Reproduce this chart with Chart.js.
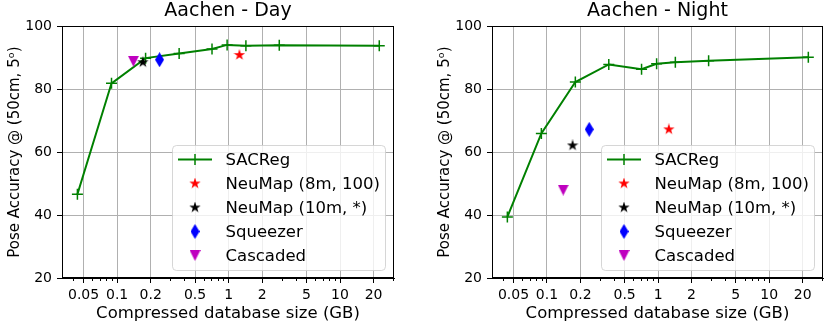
<!DOCTYPE html>
<html>
<head>
<meta charset="utf-8">
<script src="https://cdn.jsdelivr.net/npm/chart.js@4.4.0/dist/chart.umd.min.js"></script>
<style>
  html, body { margin: 0; padding: 0; background: #fff; }
  #wrap { position: relative; width: 830px; height: 332px; }
  .panel { position: absolute; top: 0; width: 415px; height: 332px; }
  #panelDay { left: 0; }
  #panelNight { left: 415px; }
</style>
</head>
<body>
<div id="wrap">
  <div class="panel" id="panelDay"><canvas id="chartDay" width="415" height="332"></canvas></div>
  <div class="panel" id="panelNight"><canvas id="chartNight" width="415" height="332"></canvas></div>
</div>
<script>
// SACReg curve (database size in GB, accuracy in %)
const sacregSize = [0.044, 0.089, 0.18, 0.36, 0.71, 0.97, 1.43, 2.85, 22.5];
const sacregDay = [46.6, 81.8, 89.8, 91.3, 92.7, 94.0, 93.7, 93.9, 93.7];
const sacregNight = [39.4, 65.9, 82.2, 87.8, 86.3, 88.0, 88.5, 89.0, 90.1];

// single-point baselines
const neumap8Size = [1.25];
const neumap8Day = [90.8];
const neumap8Night = [67.2];
const neumap10Size = [0.17];
const neumap10Day = [88.5];
const neumap10Night = [62.1];
const squeezerSize = [0.24];
const squeezerDay = [89.3];
const squeezerNight = [67.2];
const cascadedSize = [0.14];
const cascadedDay = [88.8];
const cascadedNight = [47.9];

const xMajorTicks = [0.05, 0.1, 0.2, 0.5, 1, 2, 5, 10, 20];
const xMinorTicks = [0.04, 0.06, 0.07, 0.08, 0.09, 0.3, 0.4, 0.6, 0.7, 0.8, 0.9, 3, 4, 6, 7, 8, 9, 30];
const yTicks = [20, 40, 60, 80, 100];

Chart.defaults.font.family = 'DejaVu Sans';
Chart.defaults.color = '#000';
Chart.defaults.animation = false;

// marker glyphs (matplotlib style)
function makeMarker(shape, color, w, h) {
    const c = document.createElement('canvas');
    c.width = w;
    c.height = h;
    const g = c.getContext('2d');
    g.fillStyle = color;
    g.beginPath();
    if (shape === 'star') {
        const cx = w / 2, cy = h / 2, R = w / 2, r = R * 0.382;
        for (let i = 0; i < 10; i++) {
            const a = -Math.PI / 2 + i * Math.PI / 5;
            const rr = i % 2 ? r : R;
            g.lineTo(cx + rr * Math.cos(a), cy + rr * Math.sin(a));
        }
    } else if (shape === 'diamond') {
        g.moveTo(w / 2, 0); g.lineTo(w, h / 2); g.lineTo(w / 2, h); g.lineTo(0, h / 2);
    } else if (shape === 'tridown') {
        g.moveTo(0, 0); g.lineTo(w, 0); g.lineTo(w / 2, h);
    }
    g.closePath();
    g.fill();
    return c;
}

const starRed = makeMarker('star', '#ff0000', 12, 12);
const starBlack = makeMarker('star', '#000000', 12, 12);
const diamondBlue = makeMarker('diamond', '#0000ff', 9, 15);
const triMagenta = makeMarker('tridown', '#bf00bf', 11, 11);

const toPoints = (xs, ys) => xs.map((x, i) => ({ x: x, y: ys[i] }));

function buildDatasets(sac, n8, n10, sq, cas) {
    return [
        {
            label: 'SACReg', data: toPoints(sacregSize, sac), showLine: true,
            borderColor: '#008000', backgroundColor: '#008000', borderWidth: 2,
            pointStyle: 'cross', pointRadius: 5.5, pointBorderWidth: 1.5,
            pointBorderColor: '#008000', order: 5
        },
        { label: 'NeuMap (8m, 100)', data: toPoints(neumap8Size, n8), pointStyle: starRed, order: 4 },
        { label: 'NeuMap (10m, *)', data: toPoints(neumap10Size, n10), pointStyle: starBlack, order: 3 },
        { label: 'Squeezer', data: toPoints(squeezerSize, sq), pointStyle: diamondBlue, order: 2 },
        { label: 'Cascaded', data: toPoints(cascadedSize, cas), pointStyle: triMagenta, order: 1 }
    ];
}

// box frame, minor ticks and the in-axes legend
const framePlugin = {
    id: 'frame',
    afterDraw(chart) {
        const { ctx, chartArea: a } = chart;
        const xs = chart.scales.x;
        ctx.save();
        ctx.strokeStyle = '#000';
        ctx.lineWidth = 1;
        ctx.strokeRect(Math.round(a.left) + 0.5, Math.round(a.top) + 0.5,
            Math.round(a.right - a.left) - 1, Math.round(a.bottom - a.top) - 1);

        ctx.beginPath();
        xMinorTicks.forEach(v => {
            const px = Math.round(xs.getPixelForValue(v)) + 0.5;
            if (px < a.left || px > a.right) return;
            ctx.moveTo(px, a.bottom);
            ctx.lineTo(px, a.bottom + 3);
        });
        ctx.stroke();

        // legend
        const w = 213, h = 125;
        const left = a.right - 9 - w, top = a.bottom - 8 - h;
        ctx.beginPath();
        ctx.roundRect(left + 0.5, top + 0.5, w, h, 4);
        ctx.fillStyle = 'rgba(255,255,255,0.8)';
        ctx.fill();
        ctx.strokeStyle = 'rgba(204,204,204,0.8)';
        ctx.stroke();

        ctx.font = '16.5px "DejaVu Sans"';
        ctx.textBaseline = 'middle';
        ctx.textAlign = 'left';
        chart.data.datasets.forEach((ds, i) => {
            const y = top + 14.5 + i * 24;
            const cx = left + 23;
            if (ds.showLine) {
                ctx.strokeStyle = ds.borderColor;
                ctx.lineWidth = 2;
                ctx.beginPath();
                ctx.moveTo(left + 6, y);
                ctx.lineTo(left + 40, y);
                ctx.stroke();
                ctx.lineWidth = 1.5;
                ctx.beginPath();
                ctx.moveTo(cx, y - 5.5);
                ctx.lineTo(cx, y + 5.5);
                ctx.stroke();
            } else {
                const img = ds.pointStyle;
                ctx.drawImage(img, cx - img.width / 2, y - img.height / 2);
            }
            ctx.fillStyle = '#000';
            ctx.fillText(ds.label, left + 53.5, y + 1);
        });
        ctx.restore();
    }
};

function makeChart(canvasId, titleText, datasets, padLeft, padRight) {
    return new Chart(document.getElementById(canvasId), {
        type: 'scatter',
        data: { datasets: datasets },
        options: {
            responsive: false,
            devicePixelRatio: 1,
            layout: { padding: { left: padLeft, right: padRight, top: 0, bottom: 0 } },
            plugins: {
                legend: { display: false },
                tooltip: { enabled: false },
                title: {
                    display: true, text: titleText, fullSize: false, color: '#000',
                    font: { size: 19, weight: 'normal' }, padding: { top: 0, bottom: 3.2 }
                }
            },
            scales: {
                x: {
                    type: 'logarithmic', min: 0.032, max: 30.5,
                    afterBuildTicks: s => {
                        s.ticks = xMajorTicks.concat(xMinorTicks).sort((p, q) => p - q).map(v => ({ value: v }));
                    },
                    afterFit: s => { s.height = 54; },
                    ticks: {
                        autoSkip: false, maxRotation: 0, minRotation: 0, padding: 4,
                        font: { size: 14 }, color: '#000',
                        callback: v => xMajorTicks.includes(v) ? String(v) : ''
                    },
                    grid: {
                        color: c => (c.tick && xMajorTicks.includes(c.tick.value)) ? '#b0b0b0' : 'rgba(0,0,0,0)',
                        tickColor: c => (c.tick && xMajorTicks.includes(c.tick.value)) ? '#000' : 'rgba(0,0,0,0)',
                        lineWidth: 1, tickLength: 5
                    },
                    border: { color: '#000', width: 1 },
                    title: {
                        display: true, text: 'Compressed database size (GB)', color: '#000',
                        font: { size: 16.5 }, padding: { top: 0, bottom: 8 }
                    }
                },
                y: {
                    min: 20, max: 100,
                    afterBuildTicks: s => { s.ticks = yTicks.map(v => ({ value: v })); },
                    afterFit: s => { s.width = 62; },
                    ticks: { font: { size: 14 }, padding: 5, color: '#000' },
                    grid: { color: '#b0b0b0', tickColor: '#000', tickLength: 5, lineWidth: 1 },
                    border: { color: '#000', width: 1 },
                    title: {
                        display: true, text: 'Pose Accuracy @ (50cm, 5ᵒ)', color: '#000',
                        font: { size: 15 }, padding: { top: 6, bottom: 0 }
                    }
                }
            }
        },
        plugins: [framePlugin]
    });
}

makeChart('chartDay', 'Aachen - Day',
    buildDatasets(sacregDay, neumap8Day, neumap10Day, squeezerDay, cascadedDay), 0, 21);
makeChart('chartNight', 'Aachen - Night',
    buildDatasets(sacregNight, neumap8Night, neumap10Night, squeezerNight, cascadedNight), 15, 4);
</script>
</body>
</html>
